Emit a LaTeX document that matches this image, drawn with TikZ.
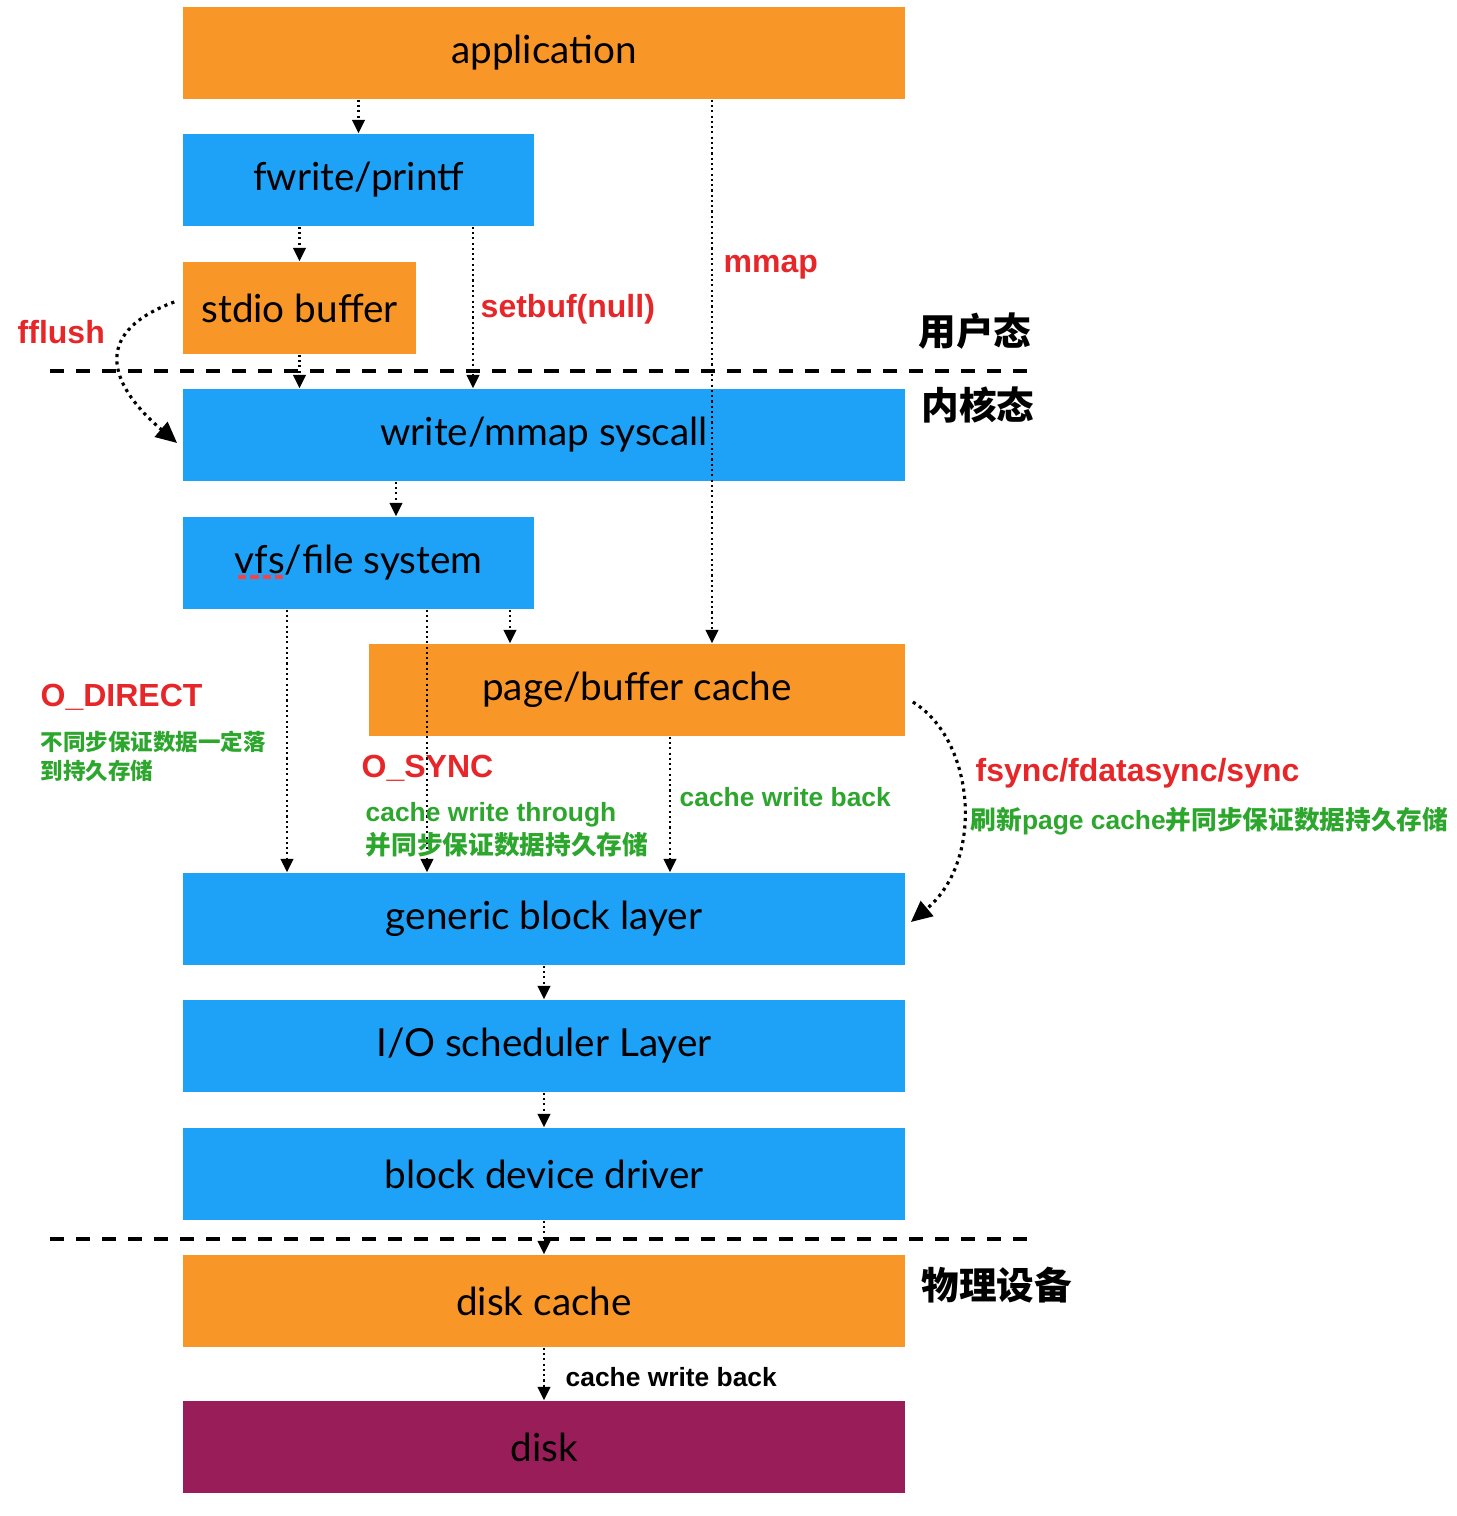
\documentclass[tikz,border=0pt]{standalone}
\usepackage{fontspec}
\setmainfont{Lato}
\newfontfamily\labfont{Liberation Sans}
\newfontfamily\cjk{Noto Sans CJK SC}
\usetikzlibrary{arrows.meta}
\definecolor{boxorange}{RGB}{248,150,40}
\definecolor{boxblue}{RGB}{30,162,248}
\definecolor{boxpurple}{RGB}{152,29,88}
\definecolor{labred}{RGB}{230,38,40}
\definecolor{labgreen}{RGB}{44,166,44}
\newcommand{\cn}[2][7.3]{{\cjk\bfseries\fontsize{#1}{8}\selectfont #2}}

\begin{document}
\begin{tikzpicture}[x=0.01cm,y=-0.01cm,
  layer/.style={inner sep=0pt,minimum height=0.92cm,font=\fontsize{11}{13}\selectfont},
  obox/.style={layer,fill=boxorange},
  bbox/.style={layer,fill=boxblue},
  pbox/.style={layer,fill=boxpurple},
  arr/.style={line width=0.6pt,dash pattern=on 0.6pt off 0.9pt,-{Triangle[length=3.8pt,width=3.6pt]}},
  curvearr/.style={line width=0.9pt,dash pattern=on 0.9pt off 1.2pt,-{Triangle[length=6pt,width=5.5pt]}},
  layersep/.style={line width=1.4pt,dash pattern=on 4pt off 3.4pt},
  redlab/.style={inner sep=0pt,anchor=west,text=labred,font=\labfont\bfseries\fontsize{9.1}{11}\selectfont},
  greenlab/.style={inner sep=0pt,anchor=west,align=left,text=labgreen,font=\labfont\bfseries\fontsize{7.5}{9.4}\selectfont},
  cnlab/.style={inner sep=0pt,anchor=west,font=\cjk\bfseries\fontsize{10.7}{12}\selectfont}]
\useasboundingbox (0,0) rectangle (1456,1516);

% layers
\node[obox,minimum width=7.22cm] (app) at (544,53) {application};
\node[bbox,minimum width=3.51cm] (fw) at (358.5,180) {fwrite/printf};
\node[obox,minimum width=2.33cm] (stdio) at (299.5,308) {stdio buffer};
\node[bbox,minimum width=7.22cm] (sys) at (544,435) {write/mmap syscall};
\node[bbox,minimum width=3.51cm] (vfs) at (358.5,563) {vfs/file system};
\node[obox,minimum width=5.36cm] (page) at (637,690) {page/buffer cache};
\node[bbox,minimum width=7.22cm] (gen) at (544,919) {generic block layer};
\node[bbox,minimum width=7.22cm] (ios) at (544,1046) {I/O scheduler Layer};
\node[bbox,minimum width=7.22cm] (drv) at (544,1174) {block device driver};
\node[obox,minimum width=7.22cm] (dcache) at (544,1301) {disk cache};
\node[pbox,minimum width=7.22cm] (disk) at (544,1447) {disk};

% spell check mark
\draw[red!75!white,line width=1.4pt,dash pattern=on 2.4pt off 1.1pt] (238,577) -- (284,577);

% user / kernel / device
\draw[layersep] (50,371) -- (1036,371);
\draw[layersep] (50,1239) -- (1036,1239);
\node[cnlab] (userlab) at (918,331) {用户态};
\node[cnlab] (kernlab) at (921,405) {内核态};
\node[cnlab] (devlab) at (921,1285) {物理设备};

% calls
\draw[arr] (fw.north |- app.south) -- (fw.north);
\draw[arr] (stdio.north |- fw.south) -- (stdio.north);
\draw[arr] (stdio.south) -- (stdio.south |- sys.north);
\draw[arr] (473,0 |- fw.south) -- (473,0 |- sys.north);
\draw[arr] (712,0 |- app.south) -- (712,0 |- page.north);
\draw[arr] (396,0 |- sys.south) -- (396,0 |- vfs.north);
\draw[arr] (510,0 |- vfs.south) -- (510,0 |- page.north);
\draw[arr] (287,0 |- vfs.south) -- (287,0 |- gen.north);
\draw[arr] (427,0 |- vfs.south) -- (427,0 |- gen.north);
\draw[arr] (670,0 |- page.south) -- (670,0 |- gen.north);
\draw[arr] (gen.south) -- (ios.north);
\draw[arr] (ios.south) -- (drv.north);
\draw[arr] (drv.south) -- (dcache.north);
\draw[arr] (dcache.south) -- (disk.north);
\draw[curvearr] ([xshift=-0.08cm,yshift=0.06cm]stdio.west) .. controls (85,335) and (115,390) .. ([xshift=-0.05cm,yshift=-0.08cm]sys.west);
\draw[curvearr] ([xshift=0.07cm,yshift=-0.12cm]page.east) .. controls (975,740) and (985,860) .. ([xshift=0.05cm,yshift=-0.03cm]gen.east);

% labels
\node[redlab] (fflushlab) at (17,332) {fflush};
\node[redlab] (setbuflab) at (480,309) {setbuf(null)};
\node[redlab] (mmaplab) at (723,267) {mmap};
\node[redlab] (directlab) at (40,697) {O\_DIRECT};
\node[greenlab,font=\labfont\bfseries\fontsize{7.5}{8.25}\selectfont] (directnote) at (40,756) {\cn[6.4]{不同步保证数据一定落}\\\cn[6.4]{到持久存储}};
\node[redlab] (synclab) at (361,768) {O\_SYNC};
\node[greenlab] (syncnote) at (365,830) {cache write through\\\cn{并同步保证数据持久存储}};
\node[greenlab] (wbnote) at (679,797) {cache write back};
\node[redlab] (fsynclab) at (975,773) {fsync/fdatasync/sync};
\node[greenlab] (fsyncnote) at (970,821) {\cn{刷新}page cache\cn{并同步保证数据持久存储}};
\node[greenlab,text=black] (diskwb) at (565,1377) {cache write back};
\end{tikzpicture}
\end{document}
